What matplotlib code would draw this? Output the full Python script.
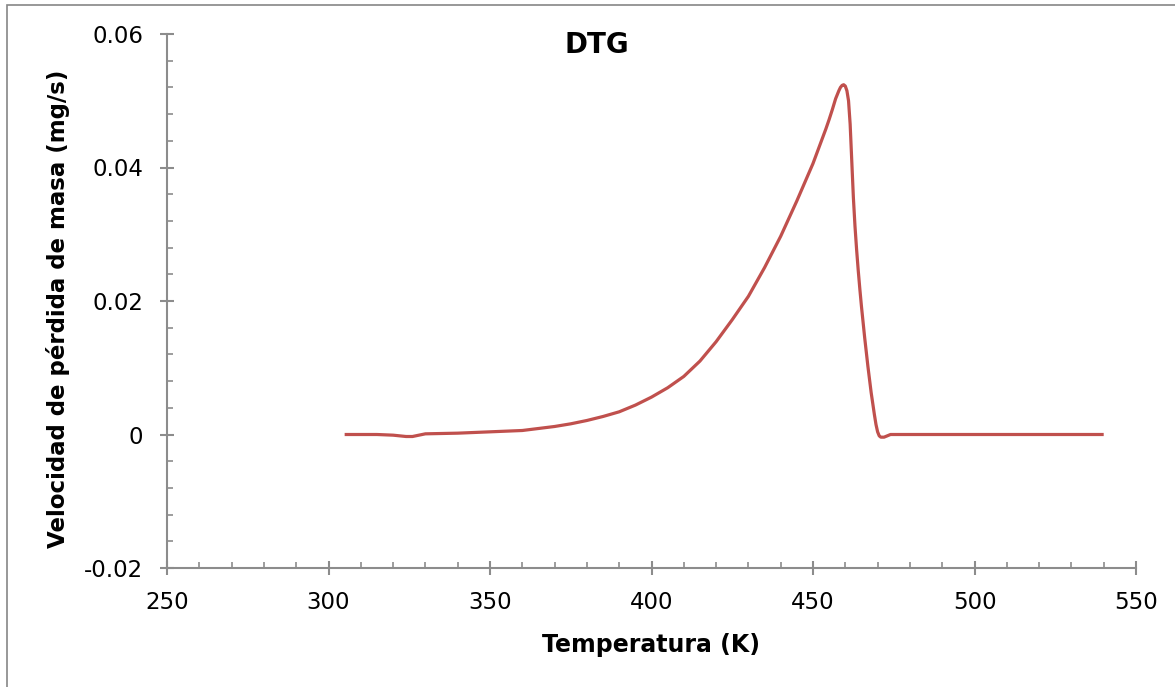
import matplotlib
matplotlib.use("Agg")
import matplotlib.pyplot as plt
from matplotlib.patches import Rectangle
from matplotlib.ticker import FixedLocator, MultipleLocator

temperature = [305, 310, 315, 320, 322, 324, 326, 328, 330, 335, 340, 345, 350,
               355, 360, 365, 370, 375, 380, 385, 390, 395, 400, 405, 410, 415,
               420, 425, 430, 435, 440, 445, 450, 452, 454, 455, 456, 457, 458,
               458.5, 459, 459.5, 460, 460.5, 461, 461.5, 462, 462.5, 463,
               463.5, 464, 464.5, 465, 466, 467, 468, 469, 469.5, 470, 470.5,
               471, 472, 473, 474, 475, 480, 500, 520, 540]
dtg = [0.0, 0.0, 0.0, -0.0001, -0.0002, -0.0003, -0.0003, -0.0001, 0.0001,
       0.00015, 0.0002, 0.0003, 0.0004, 0.0005, 0.0006, 0.0009, 0.0012,
       0.0016, 0.0021, 0.0027, 0.0034, 0.0044, 0.0056, 0.0070, 0.0087,
       0.0110, 0.0139, 0.0172, 0.0207, 0.0250, 0.0297, 0.0350, 0.0406,
       0.0432, 0.0458, 0.0472, 0.0487, 0.0503, 0.0515, 0.0520, 0.0523,
       0.0524, 0.0522, 0.0515, 0.0500, 0.0465, 0.0410, 0.0355, 0.0312,
       0.0277, 0.0246, 0.0218, 0.0192, 0.0145, 0.0102, 0.0063, 0.0030,
       0.0015, 0.0004, -0.0002, -0.0004, -0.0004, -0.0002, 0.0, 0.0, 0.0,
       0.0, 0.0, 0.0]

x_ticks = [250, 300, 350, 400, 450, 500, 550]
y_ticks = [-0.02, 0.0, 0.02, 0.04, 0.06]
y_tick_labels = ["-0.02", "0", "0.02", "0.04", "0.06"]

W, H = 1175, 687
fig = plt.figure(figsize=(W / 100, H / 100), dpi=100)
fig.patch.set_facecolor("white")

# figure border (top and left visible)
fig.patches.append(Rectangle((7 / W, -0.01), 1.1, (H - 4.5) / H + 0.01,
                             transform=fig.transFigure, fill=False,
                             edgecolor="#868686", linewidth=1.2))

ax = fig.add_axes([167 / W, (H - 568) / H, (1136 - 167) / W, (568 - 34) / H])
ax.plot(temperature, dtg, color="#C0504D", linewidth=2.3,
        solid_joinstyle="round", solid_capstyle="butt")

ax.set_xlim(250, 550)
ax.set_ylim(-0.02, 0.06)
ax.xaxis.set_major_locator(FixedLocator(x_ticks))
ax.xaxis.set_minor_locator(MultipleLocator(10))
ax.yaxis.set_major_locator(FixedLocator(y_ticks))
ax.yaxis.set_minor_locator(MultipleLocator(0.004))
ax.set_xticklabels([str(t) for t in x_ticks])
ax.set_yticklabels(y_tick_labels)

for s in ["top", "right"]:
    ax.spines[s].set_visible(False)
for s in ["left", "bottom"]:
    ax.spines[s].set_color("#8c8c8c")
    ax.spines[s].set_linewidth(1.5)

ax.tick_params(which="major", direction="inout", length=10, width=1.5,
               color="#8c8c8c", labelsize=16.5, labelcolor="black")
ax.tick_params(which="minor", direction="in", length=4.2, width=1.2,
               color="#8c8c8c")
ax.tick_params(axis="x", which="major", pad=11.5)
ax.tick_params(axis="y", which="major", pad=12)

fig.text(597 / W, 1 - 45 / H, "DTG", ha="center", va="center",
         fontsize=20, fontweight="bold")
fig.text(651 / W, 1 - 645 / H, "Temperatura (K)", ha="center", va="center",
         fontsize=17, fontweight="bold")
fig.text(58 / W, 1 - 309 / H, "Velocidad de pérdida de masa (mg/s)",
         ha="center", va="center", rotation=90, fontsize=16.5, fontweight="bold")

fig.savefig("out.png", dpi=100, facecolor="white")
